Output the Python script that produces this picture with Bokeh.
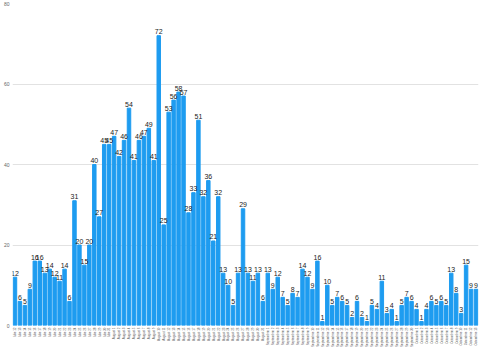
import math
from bokeh.plotting import figure
from bokeh.models import ColumnDataSource, FixedTicker, FactorRange, Range1d
from bokeh.core.properties import value
from bokeh.embed import file_html
from bokeh.resources import INLINE

# Month names and day spans shown on the x axis
month_names = ["Iulie", "August", "Septembrie", "Octombrie"]
month_first_day = [12, 1, 1, 1]

# Daily counts, one list per month
iulie = [12, 6, 5, 9, 16, 16, 13, 14, 12, 11, 14, 6, 31, 20, 15, 20, 40, 27, 45, 45]
august = [47, 42, 46, 54, 41, 46, 47, 49, 41, 72, 25, 53, 56, 58, 57, 28, 33, 51,
          32, 36, 21, 32, 13, 10, 5, 13, 29, 13, 11, 13, 6]
septembrie = [13, 9, 12, 7, 5, 8, 7, 14, 12, 9, 16, 1, 10, 5, 7, 6, 5, 2, 6, 2,
              1, 5, 4, 11, 3, 4, 1, 5, 7, 6]
octombrie = [4, 1, 4, 6, 5, 6, 5, 13, 8, 3, 15, 9, 9]

y_ticks = [0, 20, 40, 60, 80]

cats, vals = [], []
for name, first, series in zip(month_names, month_first_day,
                               [iulie, august, septembrie, octombrie]):
    for i, v in enumerate(series):
        cats.append(f"{name} {first + i}")
        vals.append(v)

src = ColumnDataSource(dict(cat=cats, val=vals, lab=[str(v) for v in vals]))

p = figure(width=480, height=350, x_range=FactorRange(*cats, range_padding=0),
           y_range=Range1d(0, 80), output_backend="svg", toolbar_location=None,
           min_border_left=0, min_border_right=2, min_border_top=3, min_border_bottom=0)
p.outline_line_color = None
p.background_fill_color = "white"

p.vbar(x="cat", top="val", width=0.7, source=src, color="#1E9CF0")
p.text(x="cat", y="val", text="lab", source=src, text_align="center",
       text_baseline="bottom", y_offset=-1.5, text_font_size="7px",
       text_color="#222222", text_font=value("Liberation Sans"))

p.xgrid.grid_line_color = None
p.ygrid.grid_line_color = "#e2e2e2"
p.ygrid.grid_line_width = 1
p.yaxis.ticker = FixedTicker(ticks=y_ticks)
p.yaxis.axis_line_color = None
p.yaxis.major_tick_line_color = None
p.yaxis.minor_tick_line_color = None
p.yaxis.major_tick_out = 0
p.yaxis.major_tick_in = 0
p.yaxis.minor_tick_out = 0
p.yaxis.major_label_text_font_size = "5px"
p.yaxis.major_label_text_color = "#666666"
p.yaxis.major_label_text_font = "Liberation Sans"
p.yaxis.major_label_standoff = 3

p.xaxis.axis_line_color = None
p.xaxis.major_tick_line_color = None
p.xaxis.minor_tick_line_color = None
p.xaxis.major_tick_out = 0
p.xaxis.major_tick_in = 0
p.xaxis.minor_tick_out = 0
p.xaxis.major_label_orientation = math.pi / 2
p.xaxis.major_label_text_font_size = "3px"
p.xaxis.major_label_text_color = "#555555"
p.xaxis.major_label_text_font = "Liberation Sans"
p.xaxis.major_label_standoff = 2

open("out.html", "w").write(file_html(p, INLINE))
